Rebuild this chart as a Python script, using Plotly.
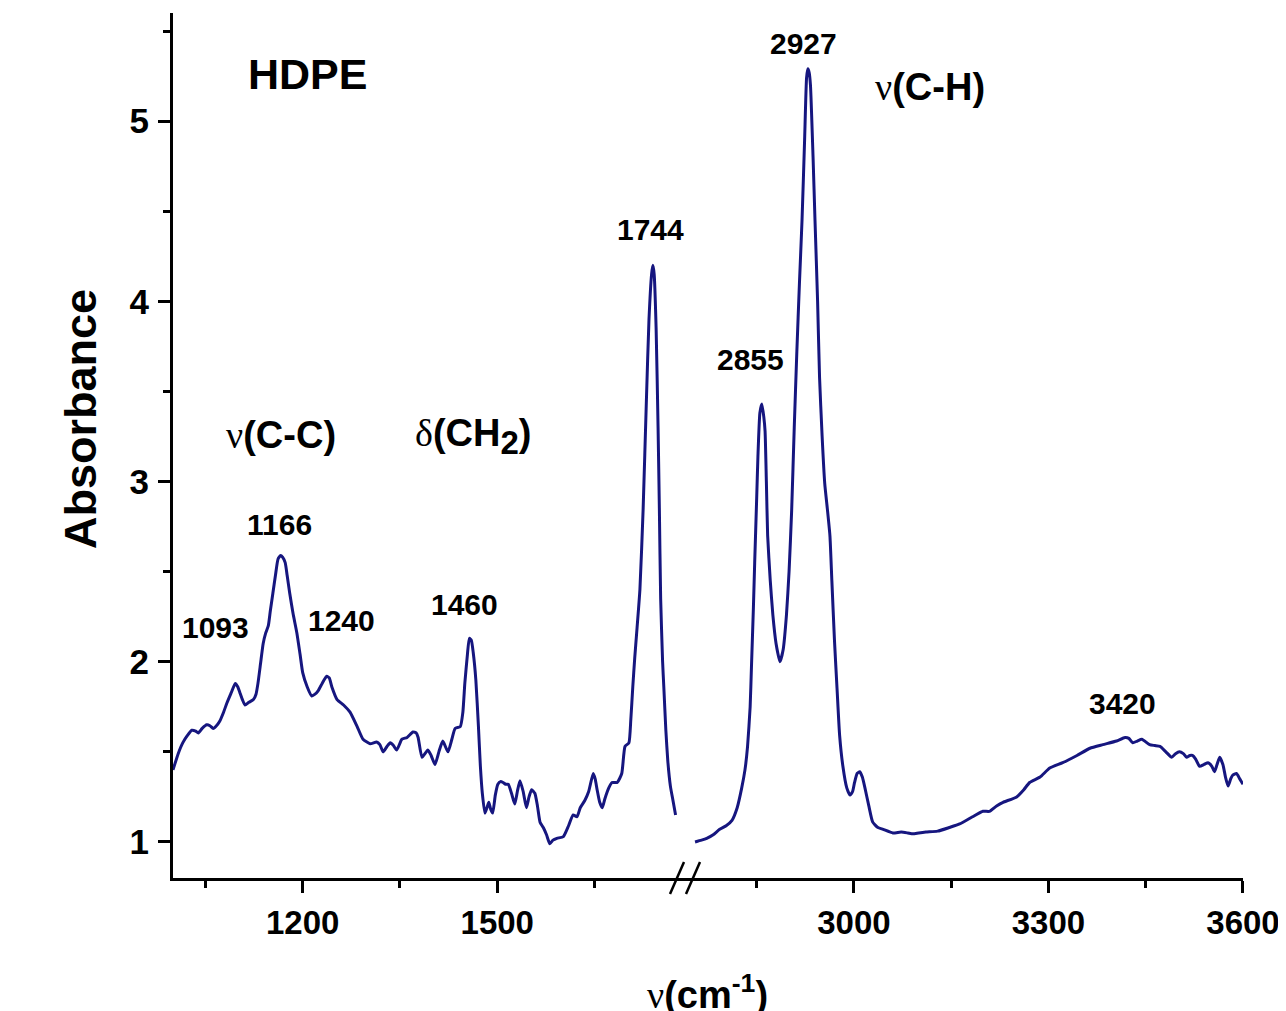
import plotly.graph_objects as go

# ---------------- data ----------------
wn_left = [1000, 1008, 1015, 1022, 1029, 1035, 1039, 1045, 1052, 1057, 1062, 1067, 1072, 1078,
           1083, 1090, 1096, 1100, 1103, 1107, 1111, 1117, 1124, 1128, 1131, 1135, 1139, 1143,
           1147, 1150, 1154, 1158, 1162, 1166, 1169, 1173, 1176, 1180, 1185, 1191, 1196, 1200,
           1207, 1214, 1219, 1224, 1230, 1237, 1241, 1245, 1253, 1263, 1273, 1284, 1293, 1304,
           1314, 1319, 1324, 1330, 1335, 1340, 1345, 1353, 1361, 1370, 1375, 1378, 1384, 1393,
           1398, 1404, 1410, 1416, 1424, 1430, 1435, 1443, 1447, 1450, 1454, 1457, 1460, 1463,
           1467, 1471, 1474, 1477, 1481, 1485, 1487, 1490, 1493, 1497, 1501, 1505, 1509, 1513,
           1517, 1522, 1527, 1531, 1535, 1540, 1545, 1549, 1553, 1558, 1562, 1566, 1571, 1576,
           1581, 1586, 1592, 1602, 1610, 1617, 1623, 1628, 1635, 1641, 1648, 1651, 1654, 1658,
           1662, 1666, 1672, 1677, 1685, 1692, 1697, 1703, 1706, 1709, 1712, 1715, 1720, 1725,
           1730, 1734, 1738, 1740, 1742, 1745, 1748, 1750, 1752, 1755, 1757, 1760, 1763, 1767,
           1771, 1775]
abs_left = [1.40, 1.49, 1.55, 1.59, 1.62, 1.615, 1.605, 1.63, 1.65, 1.645, 1.63, 1.645, 1.67, 1.72,
            1.77, 1.83, 1.88, 1.86, 1.83, 1.79, 1.76, 1.775, 1.79, 1.82, 1.88, 1.99, 2.10, 2.16,
            2.20, 2.28, 2.38, 2.48, 2.57, 2.59, 2.58, 2.55, 2.48, 2.38, 2.27, 2.16, 2.04, 1.94,
            1.86, 1.81, 1.82, 1.84, 1.88, 1.92, 1.91, 1.86, 1.79, 1.76, 1.72, 1.64, 1.57, 1.545,
            1.555, 1.54, 1.50, 1.53, 1.55, 1.535, 1.51, 1.57, 1.58, 1.61, 1.605, 1.58, 1.47, 1.51,
            1.48, 1.43, 1.50, 1.56, 1.50, 1.57, 1.63, 1.64, 1.72, 1.88, 2.04, 2.13, 2.12, 2.05,
            1.90, 1.64, 1.42, 1.27, 1.16, 1.20, 1.22, 1.18, 1.16, 1.26, 1.32, 1.335, 1.33, 1.32,
            1.32, 1.27, 1.21, 1.28, 1.34, 1.28, 1.19, 1.25, 1.29, 1.27, 1.20, 1.11, 1.08, 1.04,
            0.99, 1.01, 1.02, 1.03, 1.09, 1.15, 1.14, 1.19, 1.23, 1.28, 1.38, 1.35, 1.29, 1.22,
            1.19, 1.24, 1.30, 1.33, 1.33, 1.38, 1.53, 1.55, 1.68, 1.86, 2.02, 2.16, 2.40, 2.85,
            3.45, 3.90, 4.15, 4.20, 4.15, 3.85, 3.30, 2.85, 2.35, 2.00, 1.85, 1.62, 1.45, 1.31,
            1.23, 1.15]

wn_right = [2755, 2765, 2773, 2783, 2793, 2803, 2812, 2820, 2827, 2832, 2836, 2840, 2842, 2845,
            2847, 2850, 2852, 2855, 2858, 2861, 2863, 2865, 2867, 2871, 2875, 2880, 2886, 2891,
            2896, 2900, 2904, 2908, 2912, 2916, 2920, 2924, 2927, 2929, 2931, 2933, 2937, 2940,
            2944, 2947, 2951, 2955, 2959, 2963, 2966, 2970, 2974, 2978, 2983, 2989, 2994, 2998,
            3001, 3005, 3009, 3013, 3017, 3023, 3029, 3037, 3045, 3060, 3073, 3083, 3091, 3100,
            3111, 3129, 3147, 3163, 3183, 3199, 3209, 3220, 3230, 3251, 3262, 3271, 3287, 3302,
            3322, 3344, 3364, 3384, 3405, 3418, 3424, 3430, 3437, 3444, 3456, 3464, 3472, 3481,
            3490, 3496, 3502, 3508, 3513, 3518, 3522, 3527, 3533, 3540, 3546, 3552, 3556, 3560,
            3564, 3569, 3573, 3577, 3581, 3584, 3590, 3595, 3600]
abs_right = [1.00, 1.01, 1.02, 1.04, 1.07, 1.09, 1.12, 1.19, 1.30, 1.40, 1.53, 1.75, 1.97, 2.30,
             2.55, 2.90, 3.14, 3.38, 3.43, 3.36, 3.28, 3.00, 2.70, 2.45, 2.26, 2.10, 2.00, 2.07,
             2.26, 2.50, 2.84, 3.30, 3.72, 4.10, 4.45, 4.90, 5.24, 5.29, 5.27, 5.20, 4.80, 4.45,
             4.00, 3.58, 3.25, 2.99, 2.85, 2.70, 2.45, 2.12, 1.85, 1.59, 1.42, 1.30, 1.26, 1.28,
             1.33, 1.38, 1.39, 1.36, 1.30, 1.20, 1.11, 1.08, 1.07, 1.05, 1.055, 1.05, 1.045, 1.05,
             1.055, 1.06, 1.08, 1.10, 1.14, 1.17, 1.17, 1.20, 1.22, 1.25, 1.29, 1.33, 1.36, 1.41,
             1.44, 1.48, 1.52, 1.54, 1.56, 1.58, 1.575, 1.55, 1.56, 1.57, 1.54, 1.535, 1.53, 1.50,
             1.47, 1.49, 1.50, 1.49, 1.47, 1.48, 1.48, 1.46, 1.42, 1.43, 1.44, 1.42, 1.39, 1.43,
             1.47, 1.43, 1.36, 1.31, 1.35, 1.37, 1.38, 1.35, 1.32]

left_range = [1000, 1800]
right_range = [2750, 3600]
left_ticks = [1200, 1500]
left_minor = [1050, 1350, 1650]
right_ticks = [3000, 3300, 3600]
right_minor = [2850, 3150, 3450]
y_range = [0.8, 5.6]
y_ticks = [1, 2, 3, 4, 5]

# peak labels: (text, axis, x, y)
peak_labels = [("1093", "x", 1065, 2.19), ("1166", "x", 1164, 2.76), ("1240", "x", 1260, 2.23),
               ("1460", "x", 1450, 2.32), ("1744", "x", 1737, 4.40), ("2855", "x2", 2841, 3.68),
               ("2927", "x2", 2923, 5.43), ("3420", "x2", 3414, 1.77)]

NU = '<span style="font-family:Liberation Serif;font-weight:normal">ν</span>'
DELTA = '<span style="font-family:Liberation Serif;font-weight:normal">δ</span>'
band_labels = [(NU + "(C-C)", "x", 1167, 3.26),
               (DELTA + '(CH<sub><span style="font-size:33px">2</span></sub>)', "x", 1463, 3.25),
               (NU + "(C-H)", "x2", 3117, 5.19)]
title_label = ("HDPE", "x", 1208, 5.26)

LINE = "#16167f"
FONT = "Liberation Sans"

# ---------------- figure ----------------
# the page body has an 8 px margin, so the figure is laid out 8 px in from the window corner
OFF = 8
W, H = 1278, 1003
L, T = 173 - OFF, 13 - OFF
R = W - (1243 - OFF)
B = H - (878 - OFF)
pw, ph = W - L - R, H - T - B
split = (left_range[1] - left_range[0]) / ((left_range[1] - left_range[0]) + (right_range[1] - right_range[0]))


def px2paper(px, py):
    """window pixel -> paper coordinates"""
    return (px - OFF - L) / pw, (H - B - (py - OFF)) / ph


fig = go.Figure()
fig.add_trace(go.Scatter(x=wn_left, y=abs_left, xaxis="x", yaxis="y", mode="lines",
                         line=dict(color=LINE, width=3, shape="spline", smoothing=0.5),
                         showlegend=False, hoverinfo="skip"))
fig.add_trace(go.Scatter(x=wn_right, y=abs_right, xaxis="x2", yaxis="y", mode="lines",
                         line=dict(color=LINE, width=3, shape="spline", smoothing=0.5),
                         showlegend=False, hoverinfo="skip"))

tickfont = dict(family=FONT, size=33, color="black", weight="bold")
common_x = dict(showline=True, linecolor="black", linewidth=3, ticks="outside", ticklen=12,
                tickwidth=3, tickcolor="black", tickfont=tickfont, showgrid=False, zeroline=False,
                anchor="y", automargin=False, ticklabelstandoff=1, fixedrange=True)
fig.update_layout(
    width=W, height=H,
    margin=dict(l=L, r=R, t=T, b=B),
    paper_bgcolor="white", plot_bgcolor="white",
    xaxis=dict(domain=[0, split], range=left_range, tickmode="array", tickvals=left_ticks,
               minor=dict(tickmode="array", tickvals=left_minor, ticks="outside", ticklen=7,
                          tickwidth=3, tickcolor="black"), **common_x),
    xaxis2=dict(domain=[split, 1], range=right_range, tickmode="array", tickvals=right_ticks,
                minor=dict(tickmode="array", tickvals=right_minor, ticks="outside", ticklen=7,
                           tickwidth=3, tickcolor="black"), **common_x),
    yaxis=dict(range=y_range, tickmode="array", tickvals=y_ticks, showline=True, linecolor="black",
               linewidth=3, ticks="outside", ticklen=12, tickwidth=3, tickcolor="black",
               tickfont=dict(family=FONT, size=35, color="black", weight="bold"),
               showgrid=False, zeroline=False, automargin=False,
               ticklabelstandoff=2, fixedrange=True,
               minor=dict(dtick=0.5, tick0=0, ticks="outside", ticklen=7, tickwidth=3,
                          tickcolor="black")),
)

annotations = []
for txt, ax, xv, yv in peak_labels:
    annotations.append(dict(text=txt, x=xv, y=yv, xref=ax, yref="y", showarrow=False,
                            font=dict(family=FONT, size=30, color="black", weight="bold"),
                            xanchor="center", yanchor="middle"))
for txt, ax, xv, yv in band_labels:
    annotations.append(dict(text=txt, x=xv, y=yv, xref=ax, yref="y", showarrow=False,
                            font=dict(family=FONT, size=38, color="black", weight="bold"),
                            xanchor="center", yanchor="middle"))
txt, ax, xv, yv = title_label
annotations.append(dict(text=txt, x=xv, y=yv, xref=ax, yref="y", showarrow=False,
                        font=dict(family=FONT, size=43, color="black", weight="bold"),
                        xanchor="center", yanchor="middle"))

ax_, ay_ = px2paper(80, 419)
annotations.append(dict(text="Absorbance", x=ax_, y=ay_, xref="paper", yref="paper",
                        showarrow=False, textangle=-90,
                        font=dict(family=FONT, size=45, color="black", weight="bold"),
                        xanchor="center", yanchor="middle"))
tx, ty = px2paper(707, 966)
annotations.append(dict(text=NU + "(cm<sup>-1</sup>)",
                        x=tx, y=ty, xref="paper", yref="paper", showarrow=False,
                        font=dict(family=FONT, size=38, color="black", weight="bold"),
                        xanchor="center", yanchor="top"))
fig.update_layout(annotations=annotations)

# axis-break marks
shapes = []
for (x0, y0, x1, y1) in [(670, 894, 684, 862), (686, 894, 700, 862)]:
    a0, b0 = px2paper(x0, y0)
    a1, b1 = px2paper(x1, y1)
    shapes.append(dict(type="line", xref="paper", yref="paper", x0=a0, y0=b0, x1=a1, y1=b1,
                       line=dict(color="black", width=2.5)))
fig.update_layout(shapes=shapes)

fig.write_html("out.html")
